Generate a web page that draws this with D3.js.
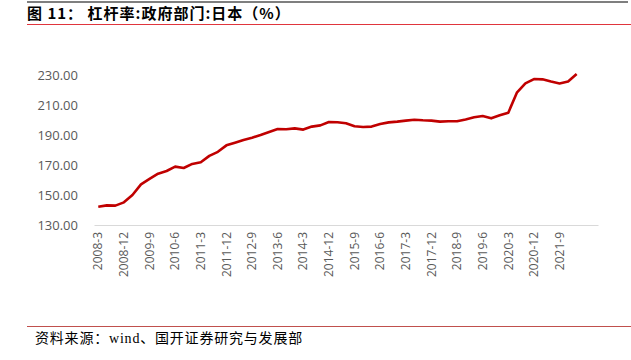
<!DOCTYPE html>
<html>
<head>
<meta charset="utf-8">
<script src="https://cdn.jsdelivr.net/npm/d3@7"></script>
<style>
  body { margin: 0; background: #fff; }
  svg { display: block; }
</style>
</head>
<body>
<div id="chart"></div>
<script>
const width = 631;
const height = 360;

// quarters 2008-3 .. 2022-9 (last two have no value yet)
const quarters = [];
for (let y = 2008; y <= 2022; y++) {
  for (const m of [3, 6, 9, 12]) {
    if (y === 2022 && m === 12) break;
    quarters.push(y + "-" + m);
  }
}

const leverage = [
  142.2, 143.1, 142.9, 145.1, 150.0, 157.1, 160.7, 164.2, 166.0, 168.9,
  168.0, 170.7, 171.8, 176.1, 178.8, 183.1, 184.9, 186.7, 188.2, 190.0,
  192.0, 194.0, 193.8, 194.4, 193.6, 195.6, 196.4, 198.7, 198.5, 197.8,
  195.8, 195.3, 195.6, 197.3, 198.4, 198.9, 199.6, 200.2, 199.8, 199.6,
  198.9, 199.2, 199.2, 200.4, 201.8, 202.7, 201.1, 203.1, 204.9, 218.2,
  224.4, 227.3, 227.1, 225.6, 224.4, 225.6, 230.6
];

const yTicks = [130, 150, 170, 190, 210, 230];

const margin = { top: 75, right: 33, bottom: 135, left: 94 };

const svg = d3
  .select("#chart")
  .append("svg")
  .attr("width", width)
  .attr("height", height);

// header and footer rules
svg.append("line")
  .attr("x1", 27).attr("x2", 628).attr("y1", 2).attr("y2", 2)
  .attr("stroke", "#000").attr("stroke-width", 1.2);
svg.append("line")
  .attr("x1", 27).attr("x2", 631).attr("y1", 24.5).attr("y2", 24.5)
  .attr("stroke", "#e0353d").attr("stroke-width", 1);
svg.append("line")
  .attr("x1", 27).attr("x2", 631).attr("y1", 326.5).attr("y2", 326.5)
  .attr("stroke", "#c0504d").attr("stroke-width", 1);

svg.append("text")
  .attr("x", 27)
  .attr("y", 19)
  .attr("font-family", "'Noto Sans CJK SC', sans-serif")
  .attr("font-size", 15)
  .attr("font-weight", "bold")
  .attr("letter-spacing", 1)
  .attr("fill", "#000")
  .text("图 11： 杠杆率:政府部门:日本（%）");

svg.append("text")
  .attr("x", 35)
  .attr("y", 343)
  .attr("font-family", "'Liberation Serif', 'Noto Sans CJK SC', serif")
  .attr("font-size", 14)
  .attr("letter-spacing", 0.8)
  .attr("fill", "#000")
  .text("资料来源：wind、国开证券研究与发展部");

const x = d3
  .scaleBand()
  .domain(quarters)
  .range([margin.left, width - margin.right]);

const y = d3
  .scaleLinear()
  .domain([130, 230])
  .range([height - margin.bottom, margin.top]);

// y axis labels
const yAxis = svg.append("g")
  .attr("transform", `translate(${margin.left - 16},0)`)
  .call(d3.axisLeft(y).tickValues(yTicks).tickSize(0).tickPadding(0).tickFormat(d3.format(".2f")));
yAxis.select(".domain").remove();
yAxis.selectAll("text")
  .attr("font-family", "'Open Sans', 'DejaVu Sans', sans-serif")
  .attr("font-size", 13)
  .attr("fill", "#595959");

// x axis
const xAxis = svg.append("g")
  .attr("transform", `translate(0,${height - margin.bottom})`)
  .call(
    d3.axisBottom(x)
      .tickValues(quarters.filter((d, i) => i % 3 === 0 && i <= 54))
      .tickSize(0)
      .tickSizeOuter(0)
  );
xAxis.select(".domain").attr("stroke", "#d9d9d9").attr("stroke-width", 1);
xAxis.selectAll("text")
  .attr("font-family", "'Open Sans', 'DejaVu Sans', sans-serif")
  .attr("font-size", 12)
  .attr("fill", "#595959")
  .attr("transform", "rotate(-90)")
  .attr("text-anchor", "end")
  .attr("dx", "-7")
  .attr("dy", "0.35em")
  .attr("y", 0)
  .attr("x", 0);

const line = d3
  .line()
  .x((d, i) => x(quarters[i]) + x.bandwidth() / 2)
  .y((d) => y(d));

svg.append("path")
  .datum(leverage)
  .attr("d", line)
  .attr("fill", "none")
  .attr("stroke", "#c00000")
  .attr("stroke-width", 2.6)
  .attr("stroke-linejoin", "round");
</script>
</body>
</html>
